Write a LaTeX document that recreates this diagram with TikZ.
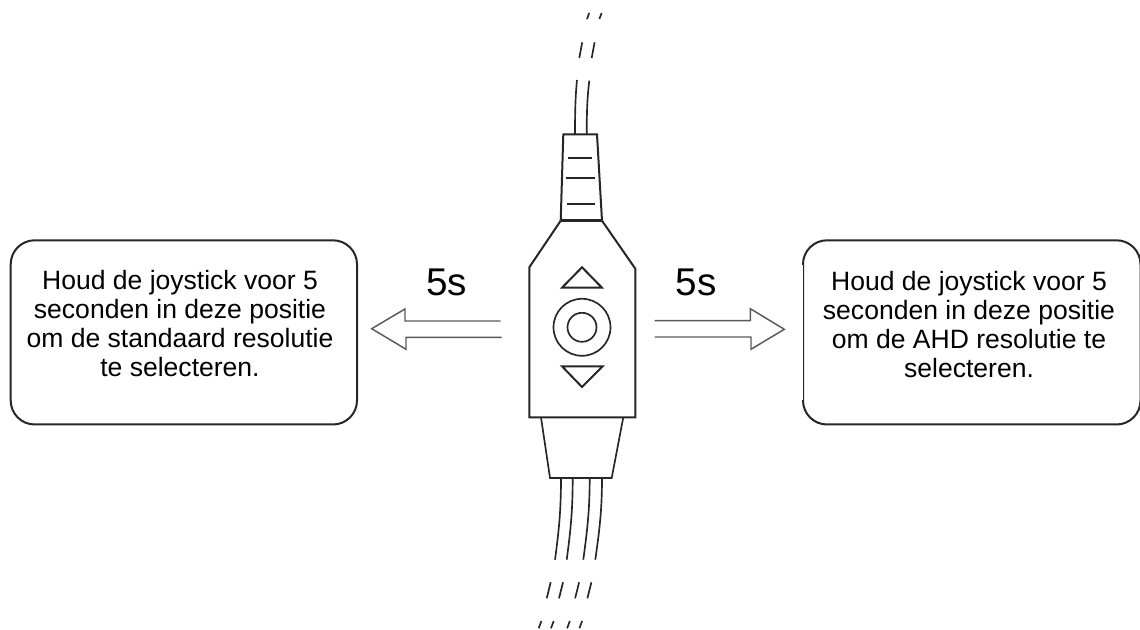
\documentclass[tikz,border=0pt]{standalone}
\usepackage{fontspec}
\setmainfont{Liberation Sans}

\tikzset{
    plug/.style={line width=1.5pt, black!85},
    wire/.style={line width=1.25pt, black!85},
    msgbox/.style={line width=1.5pt, black!85, rounded corners=18pt},
    msgtext/.style={align=center, anchor=base, font=\fontsize{19.9}{21.9}\selectfont, inner sep=0pt},
    timetext/.style={anchor=base, font=\fontsize{29}{32}\selectfont, inner sep=0pt},
    hollowarrow/.style={line width=1.1pt, black!65}
}

\begin{document}
\begin{tikzpicture}[x=0.75pt, y=-0.75pt]

    \useasboundingbox (0, 0) rectangle (1140, 630);

    % text boxes
    \draw[msgbox] (10.7, 240.3) rectangle (357, 424.5);
    \draw[msgbox] (803, 240.3) rectangle (1140.5, 424.5);
    \draw[white, line width=0.7pt] (802.2, 265) -- (802.2, 400);

    \node[msgtext] (lefttext) at (180, 376.7) {Houd de joystick voor 5\\seconden in deze positie\\om de standaard resolutie\\te selecteren.};
    \node[msgtext] (righttext) at (969, 378) {Houd de joystick voor 5\\seconden in deze positie\\om de AHD resolutie te\\selecteren.};

    \node[timetext] (lefttime) at (446.5, 295.7) {5s};
    \node[timetext] (righttime) at (696.3, 295.7) {5s};

    % hollow arrows
    \draw[hollowarrow] (500.7, 321) -- (405, 321) -- (405, 309) -- (371.7, 328.7) -- (406, 349.3) -- (406, 337.3) -- (501.7, 337.3);
    \draw[hollowarrow] (654.7, 320.7) -- (750.3, 320.7) -- (750.3, 308.7) -- (784.3, 329.3) -- (751, 349.3) -- (751, 337) -- (654.7, 337);

    % neck
    \draw[plug] (560.7, 220.7) -- (563.3, 134.3) -- (597, 134.3) -- (602, 220.7);
    \draw[plug, line width=1.9pt] (560.7, 220.7) -- (602, 220.7);
    \draw[plug] (568.3, 158) -- (592, 158);
    \draw[plug] (566.3, 178.3) -- (595.3, 178.3);
    \draw[plug] (567.3, 203.7) -- (594.7, 203.7);

    % body
    \draw[plug] (560.7, 220.7) -- (529.3, 267.3) -- (529.3, 417.3) -- (635.3, 417.3) -- (635.3, 268.7) -- (602, 220.7);
    \draw[plug] (562, 287.7) -- (582, 267.3) -- (602, 287.7) -- cycle;
    \draw[plug] (562, 366.3) -- (582, 387) -- (602.7, 366.3) -- cycle;
    \draw[wire] (582, 327.3) circle (28.5);
    \draw[wire] (582, 327.3) circle (14.5);

    % lower sleeve
    \draw[wire] (541, 417.3) -- (550, 478) -- (611.7, 478) -- (623.3, 417.3);

    % top cable
    \draw[wire] (575, 134.3) .. controls (575, 110) and (575.5, 95) .. (577, 80);
    \draw[wire] (586.7, 134.3) .. controls (586.7, 110) and (587.5, 95) .. (589.3, 80.7);
    \foreach \i in {0, 12.4} {
            \draw[wire] (579.3 + \i, 58) -- (582.2 + \i, 42.3);
            \draw[wire] (587 + \i, 19) -- (589.2 + \i, 13);
        }

    % bottom cables
    \draw[wire] (561, 478) .. controls (561, 510) and (559, 530) .. (555, 559.7);
    \draw[wire] (572.7, 478) .. controls (572.7, 510) and (570.7, 530) .. (566.7, 559.7);
    \draw[wire] (589.7, 478) .. controls (589.7, 510) and (587.3, 530) .. (583.3, 559.7);
    \draw[wire] (602, 478) .. controls (602, 510) and (599.5, 530) .. (595.3, 559.7);
    \foreach \i in {0, 12.3, 28.4, 40.7} {
            \draw[wire] (546.7 + \i, 598.3) -- (550.7 + \i, 582.3);
            \draw[wire] (538.7 + \i, 628.3) -- (541.4 + \i, 621);
        }

\end{tikzpicture}
\end{document}
